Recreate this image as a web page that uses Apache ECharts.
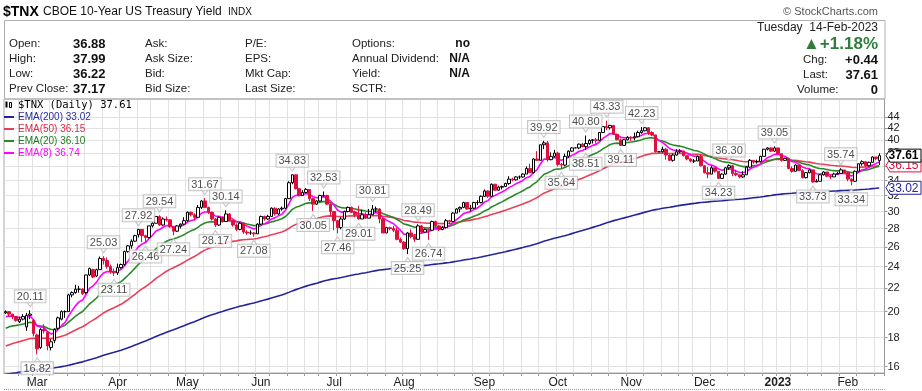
<!DOCTYPE html>
<html><head><meta charset="utf-8"><title>$TNX</title>
<script src="https://cdn.jsdelivr.net/npm/echarts@6.0.0/dist/echarts.min.js"></script>
<style>html,body{margin:0;padding:0;background:#fff;}#chart{width:922px;height:391px;}</style>
</head><body><div id="chart"></div>
<script>
// ---------- DATA ----------
const tradingDays = [
  ['2022-02',[15,16,17,18,22,23,24,25,28]],
  ['2022-03',[1,2,3,4,7,8,9,10,11,14,15,16,17,18,21,22,23,24,25,28,29,30,31]],
  ['2022-04',[1,4,5,6,7,8,11,12,13,14,18,19,20,21,22,25,26,27,28,29]],
  ['2022-05',[2,3,4,5,6,9,10,11,12,13,16,17,18,19,20,23,24,25,26,27,31]],
  ['2022-06',[1,2,3,6,7,8,9,10,13,14,15,16,17,21,22,23,24,27,28,29,30]],
  ['2022-07',[1,5,6,7,8,11,12,13,14,15,18,19,20,21,22,25,26,27,28,29]],
  ['2022-08',[1,2,3,4,5,8,9,10,11,12,15,16,17,18,19,22,23,24,25,26,29,30,31]],
  ['2022-09',[1,2,6,7,8,9,12,13,14,15,16,19,20,21,22,23,26,27,28,29,30]],
  ['2022-10',[3,4,5,6,7,10,11,12,13,14,17,18,19,20,21,24,25,26,27,28,31]],
  ['2022-11',[1,2,3,4,7,8,9,10,11,14,15,16,17,18,21,22,23,25,28,29,30]],
  ['2022-12',[1,2,5,6,7,8,9,12,13,14,15,16,19,20,21,22,23,27,28,29,30]],
  ['2023-01',[3,4,5,6,9,10,11,12,13,17,18,19,20,23,24,25,26,27,30,31]],
  ['2023-02',[1,2,3,6,7,8,9,10,13,14]]
];
const opens = [
  19.9,20.0,19.8,19.6,19.2,19.4,18.8,19.7,19.3,
  18.2,17.3,18.6,18.4,17.3,17.8,18.7,19.4,20.0,20.0,21.4,21.6,21.9,21.9,21.6,23.2,23.7,23.1,23.7,24.8,24.6,24.0,23.5,
  23.4,23.9,24.2,25.5,26.1,26.6,27.3,27.9,27.2,27.0,28.3,28.6,29.4,28.4,29.1,29.0,28.2,27.7,28.3,28.5,
  28.9,29.9,29.6,29.3,30.5,31.3,30.5,29.9,29.1,28.4,29.3,28.8,29.7,28.9,28.4,27.9,28.6,27.6,27.5,27.5,27.4,
  28.5,29.4,29.1,29.4,30.4,29.7,30.3,30.4,31.6,33.7,34.8,32.9,32.0,32.4,32.8,31.6,30.9,31.3,32.0,32.0,30.9,
  30.0,28.9,28.1,29.1,30.0,30.5,29.9,29.6,29.1,29.6,29.2,29.6,30.3,30.3,29.1,27.5,28.1,28.0,27.8,26.8,
  26.5,25.8,27.5,27.1,26.8,28.3,27.6,27.9,27.8,28.8,28.3,27.9,28.1,28.9,28.8,29.8,30.3,30.5,31.1,30.3,30.4,31.1,31.1,
  31.9,32.6,31.9,33.5,32.7,33.1,33.2,33.6,34.2,34.1,34.5,34.5,34.9,35.7,35.1,37.1,36.9,39.3,39.6,37.0,37.5,
  38.0,36.3,36.2,37.5,38.3,38.8,38.8,39.4,39.0,39.5,40.0,40.1,40.0,41.3,42.3,42.1,42.5,41.0,40.1,39.2,40.1,
  40.5,40.4,40.6,41.3,41.6,42.1,41.3,40.9,38.2,38.2,38.6,37.7,36.9,37.7,38.2,38.3,37.6,37.1,36.8,36.8,37.5,
  36.1,35.1,34.9,35.8,35.3,34.3,34.9,35.8,36.1,35.0,34.8,34.5,34.8,35.9,36.9,36.7,36.7,37.5,38.6,38.8,38.3,
  38.8,37.9,36.9,37.2,35.7,35.3,36.2,35.4,34.4,35.1,35.5,33.8,33.9,34.8,35.2,34.6,34.5,34.9,35.0,35.5,
  35.1,34.2,33.9,35.3,36.4,36.7,36.1,36.6,37.4,36.88
];
const highs = [
  20.1,20.0,19.8,19.6,19.6,19.8,19.9,20.11,19.4,
  18.3,18.7,19.0,18.5,17.9,18.7,19.6,20.1,20.1,21.5,21.7,22.3,22.2,22.0,23.2,23.9,23.8,23.8,25.0,25.03,24.9,24.2,23.8,
  24.3,24.3,25.6,26.2,26.8,27.3,27.92,27.9,27.3,28.3,28.7,29.4,29.54,29.3,29.4,29.1,28.3,28.4,28.6,29.3,
  30.0,30.0,29.8,30.8,31.4,31.67,30.6,30.0,29.2,29.4,29.4,30.14,29.8,29.0,28.6,28.7,28.6,27.8,27.8,27.6,28.6,
  29.5,29.5,29.6,30.5,30.5,30.4,30.6,31.7,33.9,34.83,34.8,33.0,32.7,33.0,32.8,31.7,31.4,32.1,32.53,32.1,31.0,
  30.0,29.0,29.3,30.1,30.6,30.6,30.1,30.7,30.2,29.9,30.3,30.81,30.6,30.4,29.3,28.2,28.2,28.3,28.1,27.0,
  26.6,27.6,27.9,27.4,28.49,28.4,28.0,28.0,28.9,28.9,28.4,28.3,29.1,29.0,29.9,30.4,30.6,31.2,31.1,30.8,31.2,31.4,32.0,
  32.8,32.7,33.6,33.5,33.3,33.3,33.7,34.6,34.4,34.6,34.7,35.0,36.0,36.4,37.2,38.3,39.3,39.92,39.9,38.1,38.5,
  38.2,36.5,37.9,38.4,38.9,38.8,39.5,39.6,40.80,40.2,40.2,40.4,41.4,42.4,43.33,42.6,42.5,41.1,40.3,40.2,40.7,
  40.7,41.3,41.6,42.23,42.2,42.2,41.5,40.9,38.2,39.0,38.8,37.8,37.9,38.6,38.6,38.4,37.6,37.2,37.1,37.6,37.8,
  36.2,35.9,36.1,35.8,35.3,35.0,35.9,36.30,36.2,35.5,34.8,35.3,36.0,37.1,36.9,37.0,37.6,38.6,38.9,38.9,39.05,
  38.8,37.9,37.3,37.3,36.0,36.3,36.2,35.6,35.2,35.6,35.5,34.2,34.9,35.3,35.2,34.8,35.1,35.2,35.74,35.5,
  35.3,34.3,35.4,36.4,36.9,36.7,36.7,37.5,37.4,37.99
];
const lows = [
  19.8,19.6,19.4,19.2,19.1,19.3,18.5,19.4,18.1,
  16.82,17.2,18.3,17.1,17.1,17.6,18.6,19.3,19.5,20.0,21.2,21.5,21.6,21.4,21.5,23.1,22.9,23.0,23.7,24.2,23.8,23.3,23.11,
  23.2,23.8,24.1,25.4,25.8,26.5,27.0,26.5,26.46,26.9,28.1,28.6,28.3,28.3,28.8,28.1,27.24,27.6,28.0,28.4,
  28.8,29.4,28.9,29.2,30.3,30.4,29.7,28.9,28.17,28.3,28.7,28.8,28.8,28.2,27.7,27.8,27.4,27.3,27.3,27.08,27.4,
  28.4,28.9,29.0,29.4,29.5,29.6,30.1,30.3,31.6,33.5,32.8,31.9,32.0,32.3,31.3,30.05,30.8,31.2,31.8,30.8,29.5,
  27.8,27.46,27.9,29.0,29.9,29.8,29.3,29.01,29.1,29.1,29.2,29.6,29.9,28.6,27.5,27.5,27.8,27.6,26.7,26.4,
  25.7,25.25,26.9,26.5,26.8,27.5,27.5,26.74,27.7,28.2,27.7,27.8,28.0,28.5,28.8,29.8,29.9,30.4,30.2,30.0,30.3,30.8,31.0,
  31.8,31.7,31.9,32.6,32.6,32.8,33.1,33.4,33.9,34.0,34.2,34.4,34.9,35.1,35.0,36.8,36.9,38.6,36.7,36.9,37.3,
  36.0,35.64,36.0,37.3,38.2,38.8,38.6,38.9,38.51,39.3,39.5,39.5,40.0,41.2,41.7,41.8,40.9,40.0,39.11,39.2,40.0,
  39.9,40.0,40.5,41.1,41.5,40.9,40.7,38.1,38.2,38.1,37.0,36.8,36.7,37.6,38.0,37.5,36.9,36.6,36.5,36.8,36.0,
  35.0,34.3,34.9,35.1,34.23,34.3,34.8,35.5,34.6,34.6,34.3,34.4,34.8,35.8,36.4,36.4,36.6,37.5,38.4,38.2,38.2,
  37.8,36.7,36.8,35.6,35.1,35.3,35.4,34.3,34.3,35.0,33.73,33.8,33.9,34.7,34.5,34.2,34.5,34.8,35.0,35.0,
  33.9,33.34,33.8,35.3,36.1,35.9,36.0,36.6,36.9,36.22
];
const closes = [
  20.0,19.8,19.6,19.3,19.4,19.6,19.7,19.8,18.3,
  17.2,18.6,18.5,17.4,17.7,18.6,19.5,20.0,20.0,21.4,21.6,21.9,21.9,21.5,23.2,23.8,23.0,23.7,24.8,24.6,24.0,23.5,23.4,
  23.9,24.2,25.5,26.1,26.6,27.2,27.9,27.2,27.0,28.3,28.6,29.4,28.4,29.1,29.0,28.2,27.7,28.3,28.5,28.9,
  29.9,29.6,29.3,30.5,31.3,30.5,29.9,29.1,28.4,29.3,28.8,29.7,28.9,28.4,27.9,28.6,27.6,27.5,27.5,27.4,28.5,
  29.4,29.1,29.4,30.4,29.7,30.3,30.4,31.6,33.7,34.8,32.9,32.0,32.4,32.8,31.6,30.9,31.3,32.0,32.0,30.9,30.0,
  28.9,28.1,29.1,30.0,30.5,29.9,29.6,29.1,29.6,29.2,29.6,30.3,30.3,29.1,27.5,28.1,28.0,27.8,26.8,26.5,
  25.8,27.5,27.1,26.8,28.3,27.6,27.9,27.8,28.8,28.3,27.9,28.1,28.9,28.8,29.8,30.3,30.5,31.1,30.3,30.4,31.1,31.1,31.9,
  32.6,31.9,33.5,32.7,33.1,33.2,33.6,34.2,34.1,34.5,34.5,34.9,35.7,35.1,37.1,36.9,39.3,39.6,37.0,37.5,38.0,
  36.3,36.2,37.5,38.3,38.8,38.8,39.4,39.0,39.5,40.0,40.1,40.0,41.3,42.3,42.1,42.5,41.0,40.1,39.2,40.1,40.5,
  40.4,40.6,41.3,41.6,42.1,41.3,40.9,38.2,38.2,38.6,37.7,36.9,37.7,38.2,38.3,37.6,37.1,36.8,36.8,37.5,36.1,
  35.1,34.9,35.8,35.3,34.3,34.9,35.8,36.1,35.0,34.8,34.5,34.8,35.9,36.9,36.7,36.7,37.5,38.6,38.8,38.3,38.8,
  37.9,36.9,37.2,35.7,35.3,36.2,35.4,34.4,35.1,35.5,33.8,33.9,34.8,35.2,34.6,34.5,34.9,35.0,35.5,35.1,
  34.2,33.9,35.3,36.4,36.7,36.1,36.6,37.4,37.17,37.61
];
const yTickValues = [16,18,20,22,24,26,28,30,32,34,36,38,40,42,44];
const monthNames = ['Jan','Feb','Mar','Apr','May','Jun','Jul','Aug','Sep','Oct','Nov','Dec'];
const emaPeriods = [200, 50, 20, 8];
const emaSeeds = [15.5, 17.4, 18.7, 19.6];
const emaNames = ['EMA(200)', 'EMA(50)', 'EMA(20)', 'EMA(8)'];
const emaLegendValues = ['33.02', '36.15', '36.10', '36.74'];
const highMarks = [20.11,25.03,27.92,29.54,31.67,30.14,34.83,32.53,30.81,28.49,39.92,40.80,43.33,42.23,36.30,39.05,35.74];
const lowMarks = [16.82,23.11,26.46,27.24,28.17,27.08,30.05,27.46,29.01,25.25,26.74,35.64,38.51,39.11,34.23,33.73,33.34];
const tagValues = [37.61, 36.15, 33.02];

// ---------- BUILD ----------
const dates = [];
tradingDays.forEach(([ym, days]) => days.forEach(d => dates.push(ym + '-' + String(d).padStart(2,'0'))));
const cats = dates.concat(['']);
const dayOf = dates.map(s => new Date(s + 'T00:00:00Z').getUTCDay());
const weekStart = dates.map((s, i) => i > 0 && dayOf[i] <= dayOf[i-1]);
weekStart.push(false);
const monthStart = dates.map((s, i) => i > 0 && s.slice(0,7) !== dates[i-1].slice(0,7));
monthStart.push(false);

const RED = '#e0103c', BLK = '#000000';
const candleData = dates.map((d, i) => {
  const o = opens[i], c = closes[i], prev = i > 0 ? closes[i-1] : o;
  const col = c < prev ? RED : BLK;
  const fill = c > o ? '#ffffff' : col;
  return { value: [o, c, lows[i], highs[i]],
    itemStyle: { color: fill, color0: fill, borderColor: col, borderColor0: col } };
});

function ema(src, n, seed) {
  const k = 2 / (n + 1); const out = []; let e = seed;
  for (let i = 0; i < src.length; i++) { if (i > 0) e = src[i] * k + e * (1 - k); out.push(+e.toFixed(3)); }
  return out;
}
const emaColors = ['#24249a', '#e8405a', '#2a8a2a', '#ff00ff'];
const emaLegendColors = ['#2b2b9e', '#e02848', '#1f7a1f', '#ff00ff'];
const emaSeries = emaPeriods.map((p, j) => ema(closes, p, emaSeeds[j]));

const FONT = 'Liberation Sans, Arial, sans-serif';
const AXFONT = '"Liberation Sans Narrow", "Liberation Sans", Arial, sans-serif';
const markData = [];
highMarks.forEach(v => { const i = highs.indexOf(v); if (i >= 0) markData.push({ value: [i, v], kind: 'H', text: v.toFixed(2) }); });
lowMarks.forEach(v => { const i = lows.indexOf(v); if (i >= 0) markData.push({ value: [i, v], kind: 'L', text: v.toFixed(2) }); });

const markSeries = {
  type: 'scatter', z: 6, silent: true,
  data: markData.map(m => ({
    value: m.value,
    symbol: m.kind === 'H' ? 'path://M0,0 L8,0 L4,5 Z' : 'path://M4,0 L8,5 L0,5 Z',
    symbolSize: [7, 5],
    symbolOffset: [0, m.kind === 'H' ? -6 : 6],
    itemStyle: { color: '#fff', borderColor: '#b8b8b8', borderWidth: 1 },
    label: { show: true, position: m.kind === 'H' ? 'top' : 'bottom', distance: -1, formatter: m.text,
      fontFamily: FONT, fontSize: 11, color: '#222', backgroundColor: '#fff',
      borderColor: '#b8b8b8', borderWidth: 1, padding: [1, 2, 0, 2] }
  }))
};

const series = [];
emaSeries.forEach((arr, j) => {
  series.push({ type: 'line', name: emaNames[j], data: arr, showSymbol: false, silent: true, z: 2,
    lineStyle: { width: 1.6, color: emaColors[j] }, itemStyle: { color: emaColors[j] } });
});
series.push({ type: 'candlestick', name: '$TNX', data: candleData, z: 4, barWidth: 3 });
series.push(markSeries);

// header graphics
const G = [];
function txt(x, y, text, font, fill, align) {
  G.push({ type: 'text', x: x, y: y, silent: true, z: 100,
    style: { text: text, font: font, fill: fill || '#000', textAlign: align || 'left', textVerticalAlign: 'middle' } });
}
G.push({ type: 'rect', shape: { x: 4.5, y: 20.5, width: 880.5, height: 78.5 }, style: { fill: 'none', stroke: '#b0b0b0', lineWidth: 1 }, silent: true, z: 100 });
txt(3, 12, '$TNX', 'bold 14px ' + FONT);
txt(43, 12, 'CBOE 10-Year US Treasury Yield', '12px ' + FONT, '#111');
txt(228, 12.5, 'INDX', '10px ' + FONT, '#111');
txt(878, 12, '\u00a9 StockCharts.com', '11px ' + FONT, '#555', 'right');
const L = '11.5px ' + FONT, B = 'bold 13px ' + FONT;
const rowsY = [44, 59, 74, 89];
[['Open:', '36.88'], ['High:', '37.99'], ['Low:', '36.22'], ['Prev Close:', '37.17']].forEach((r, k) => {
  txt(9, rowsY[k], r[0], L, '#222'); txt(73, rowsY[k], r[1], B, '#111'); });
['Ask:', 'Ask Size:', 'Bid:', 'Bid Size:'].forEach((t, k) => txt(145, rowsY[k], t, L, '#222'));
['P/E:', 'EPS:', 'Mkt Cap:', 'Last Size:'].forEach((t, k) => txt(245, rowsY[k], t, L, '#222'));
['Options:', 'Annual Dividend:', 'Yield:', 'SCTR:'].forEach((t, k) => txt(352, rowsY[k], t, L, '#222'));
['no', 'N/A', 'N/A', ''].forEach((t, k) => txt(470, rowsY[k], t, 'bold 12px ' + FONT, '#111', 'right'));
txt(878, 28, 'Tuesday  14-Feb-2023', '12px ' + FONT, '#222', 'right');
txt(878, 44, '\u25B2+1.18%', 'bold 17px ' + FONT, '#2e7d3a', 'right');
txt(803, 60, 'Chg:', L, '#222'); txt(878, 60, '+0.44', B, '#111', 'right');
txt(803, 75, 'Last:', L, '#222'); txt(878, 75, '37.61', B, '#111', 'right');
txt(797, 90, 'Volume:', L, '#222'); txt(878, 90, '0', B, '#111', 'right');
// legend inside plot
G.push({ type: 'rect', shape: { x: 5.5, y: 101.5, width: 2, height: 6 }, style: { fill: '#000' }, silent: true, z: 100 });
G.push({ type: 'rect', shape: { x: 9.5, y: 102.5, width: 2, height: 5 }, style: { fill: '#fff', stroke: '#000' }, silent: true, z: 100 });
txt(18, 105, '$TNX (Daily) 37.61', '10.5px DejaVu Sans Mono, monospace', '#000');
emaNames.forEach((nm, j) => {
  const y = 117 + j * 12;
  G.push({ type: 'line', shape: { x1: 4, y1: y, x2: 14, y2: y }, style: { stroke: emaColors[j], lineWidth: 2 }, silent: true, z: 100 });
  txt(18, y, nm + ' ' + emaLegendValues[j], '10px ' + FONT, emaLegendColors[j]);
});
// dotted rule under the date axis
G.push({ type: 'line', shape: { x1: 4, y1: 389.5, x2: 886, y2: 389.5 }, style: { stroke: '#9a9a9a', lineWidth: 1, lineDash: [1, 1] }, silent: true, z: 100 });

const option = {
  animation: false,
  backgroundColor: '#fff',
  grid: { left: 4, right: 37.5, top: 99, bottom: 18, show: true, borderColor: '#a8a8a8', borderWidth: 1 },
  xAxis: {
    type: 'category', data: cats, boundaryGap: true,
    axisLine: { show: true, lineStyle: { color: '#999' } },
    axisTick: { show: true, interval: (i) => weekStart[i], length: 3, lineStyle: { color: '#999' } },
    splitLine: { show: true, interval: (i) => weekStart[i], lineStyle: { color: '#e2e2e2', width: 1 } },
    axisLabel: { interval: (i) => monthStart[i], margin: 4, fontFamily: AXFONT, fontSize: 12, color: '#222',
      formatter: (v) => { if (!v) return ''; const m = +v.slice(5,7); return m === 1 ? '{b|' + v.slice(0,4) + '}' : monthNames[m-1]; },
      rich: { b: { fontWeight: 'bold', fontSize: 12, fontFamily: AXFONT, color: '#222' } } }
  },
  yAxis: {
    type: 'log', logBase: 10, position: 'right', min: 15.6, max: 47.3,
    axisLine: { show: true, lineStyle: { color: '#999' } },
    axisTick: { show: true, customValues: yTickValues, length: 3, lineStyle: { color: '#999' } },
    splitLine: { show: true, lineStyle: { color: '#e2e2e2', width: 1 } },
    axisLabel: { customValues: yTickValues, margin: 3, fontFamily: AXFONT, fontSize: 11, color: '#222', hideOverlap: false, formatter: (v) => String(Math.round(v)) }
  },
  graphic: G,
  series: series
};
const chart = echarts.init(document.getElementById('chart'), null, { renderer: 'canvas' });
chart.setOption(option);

// right-side value tags, positioned through the y axis scale
const tagColors = ['#000000', '#e0103c', '#24249a'];
const tagEls = [];
[2, 1, 0].forEach(k => {
  const y = chart.convertToPixel({ yAxisIndex: 0 }, tagValues[k]);
  const x0 = 886, x1 = 921, h = 6.5;
  tagEls.push({ type: 'polygon', silent: true, z: 200 + (2 - k),
    shape: { points: [[x0, y], [x0 + 4, y - h], [x1, y - h], [x1, y + h], [x0 + 4, y + h]] },
    style: { fill: '#fff', stroke: tagColors[k], lineWidth: 1 } });
  tagEls.push({ type: 'text', silent: true, z: 201 + (2 - k), x: 903.5, y: y + 0.5,
    style: { text: tagValues[k].toFixed(2), font: (k === 0 ? 'bold ' : '') + '12px ' + FONT, fill: tagColors[k], textAlign: 'center', textVerticalAlign: 'middle' } });
});
chart.setOption({ graphic: G.concat(tagEls) });
</script></body></html>
